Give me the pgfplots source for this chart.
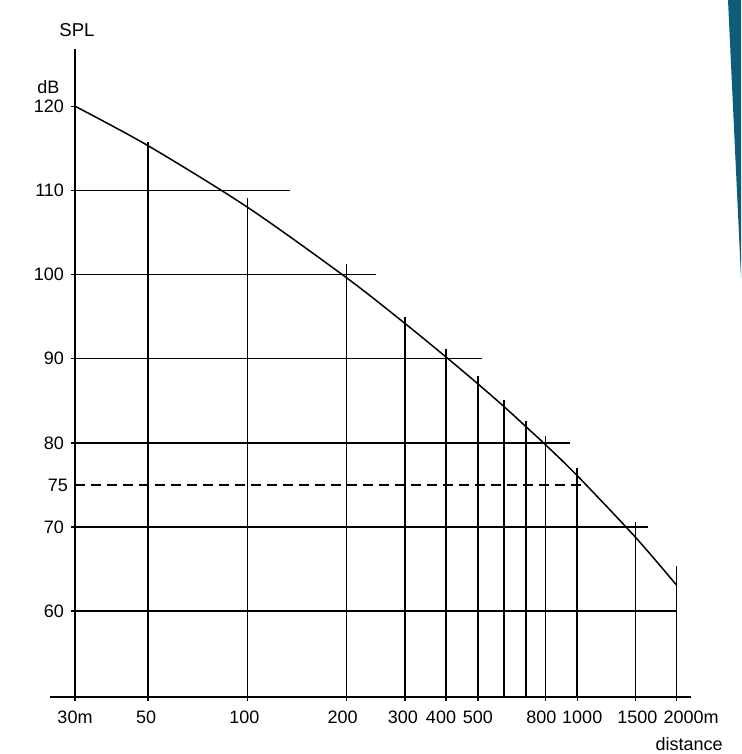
\documentclass[border=0pt]{standalone}
\usepackage{fontspec}
\setmainfont{Liberation Sans}
\usepackage{pgfplots}
\pgfplotsset{compat=1.18}
\definecolor{wedge}{RGB}{12,92,122}
\newcommand{\shl}[2]{\makebox[0pt]{\hspace{#1}#2}}
\begin{document}
\begin{tikzpicture}
\begin{scope}[x=0.5pt,y=0.5pt]
  \useasboundingbox (0,0) rectangle (741,754);
  \fill[wedge] (728,754) -- (741,754) -- (741,476) -- cycle;
\end{scope}
\begin{axis}[
  at={(37.5pt,28.5pt)}, anchor=south west, scale only axis,
  width=308pt, height=324pt,
  xmode=log, xmin=30, xmax=2213, ymin=49.8, ymax=126.8,
  axis x line=bottom, axis y line=left,
  axis line style={-, line width=1pt, black},
  clip mode=individual,
  xtick={30,50,100,200,300,400,500,800,1000,1500,2000},
  xticklabels={30m,\shl{-2pt}{50},\shl{-3pt}{100},\shl{-4pt}{200},\shl{-2pt}{300},\shl{-5pt}{400},500,\shl{-4pt}{800},\shl{5pt}{1000},\shl{2pt}{1500},{\makebox[0pt][l]{\hspace{-6.5pt}2000m}}},
  xminorticks=false, yminorticks=false,
  ytick={60,70,80,90,100,110,120},
  extra y ticks={75},
  extra y tick style={major tick length=0pt},
  tick align=outside, major tick length=2pt,
  tick style={black, line width=0.7pt},
  ticklabel style={font=\fontsize{9}{10}\selectfont},
  xticklabel style={yshift=-1.5pt},
  /pgf/number format/assume math mode=true,
  gl/.style={black, line width=0.75pt, no markers, solid},
]
% vertical lines
\addplot[gl] coordinates {(50,49.8) (50,115.8)};
\addplot[gl] coordinates {(100,49.8) (100,109.1)};
\addplot[gl] coordinates {(200,49.8) (200,101.2)};
\addplot[gl] coordinates {(300,49.8) (300,94.9)};
\addplot[gl] coordinates {(400,49.8) (400,91.2)};
\addplot[gl] coordinates {(500,49.8) (500,88.0)};
\addplot[gl] coordinates {(600,49.8) (600,85.1)};
\addplot[gl] coordinates {(700,49.8) (700,82.6)};
\addplot[gl] coordinates {(800,49.8) (800,80.8)};
\addplot[gl] coordinates {(1000,49.8) (1000,77.0)};
\addplot[gl] coordinates {(1500,49.8) (1500,70.6)};
\addplot[gl] coordinates {(2000,49.8) (2000,65.4)};
% horizontal lines
\addplot[gl] coordinates {(30,110) (135,110)};
\addplot[gl] coordinates {(30,100) (245,100)};
\addplot[gl] coordinates {(30,90) (513,90)};
\addplot[gl] coordinates {(30,80) (948,80)};
\addplot[gl, dash pattern=on 5pt off 3pt] coordinates {(30,75) (1050,75)};
\addplot[gl] coordinates {(30,70) (1634,70)};
\addplot[gl] coordinates {(30,60) (2000,60)};
% SPL curve
\addplot[gl, smooth] coordinates {
  (30,120) (50,115.3) (100,108.0) (200,99.6) (300,94.2) (400,90.2)
  (500,87.0) (600,84.3) (700,81.9) (800,79.8) (1000,76.1) (1500,68.8) (2000,63.1)};
\end{axis}
\begin{scope}[x=0.5pt,y=0.5pt]
  \draw[line width=1pt] (50,57) -- (75,57);
  \node[font=\fontsize{9.3}{11}\selectfont] at (77,724) {SPL};
  \node[font=\fontsize{9}{10}\selectfont, anchor=west, inner sep=0pt] at (37,667) {dB};
  \node[font=\fontsize{9}{10}\selectfont, anchor=east, inner sep=0pt] at (723,9.5) {distance};
\end{scope}
\end{tikzpicture}
\end{document}
